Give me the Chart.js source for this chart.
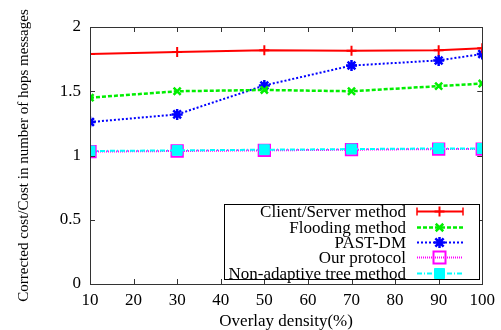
<!DOCTYPE html>
<html>
<head>
<meta charset="utf-8">
<script src="https://cdn.jsdelivr.net/npm/chart.js@4/dist/chart.umd.min.js"></script>
<style>
  body { margin: 0; background: #fff; }
</style>
</head>
<body>
<canvas id="chart" width="501" height="330"></canvas>
<script>
// density values on the x axis
const density = [10, 30, 50, 70, 90, 100];
const seriesNames = ['Client/Server method', 'Flooding method', 'PAST-DM', 'Our protocol', 'Non-adaptive tree method'];
const clientServer = [1.79, 1.805, 1.82, 1.815, 1.82, 1.835];
const flooding = [1.45, 1.50, 1.51, 1.50, 1.54, 1.56];
const pastDm = [1.26, 1.32, 1.545, 1.70, 1.74, 1.79];
const ourProtocol = [1.03, 1.035, 1.04, 1.045, 1.05, 1.05];
const nonAdaptive = [1.035, 1.04, 1.045, 1.05, 1.055, 1.055];
const xTicks = [10, 20, 30, 40, 50, 60, 70, 80, 90, 100];
const yTicks = [0, 0.5, 1, 1.5, 2];

const FONT = '"Liberation Serif", "DejaVu Serif", serif';

function pts(vals) {
    return vals.map((v, i) => ({ x: density[i], y: v }));
}

const styles = [
    { color: '#ff0000', fill: '#ff0000', width: 2, dash: [], point: 'cross', radius: 5, pw: 2 },
    { color: '#00ee00', fill: '#00ee00', width: 2.5, dash: [4, 2], point: 'crossRot', radius: 5, pw: 2.5 },
    { color: '#0000ff', fill: '#0000ff', width: 2, dash: [2, 2], point: 'star', radius: 5.5, pw: 2.5 },
    { color: '#ff00ff', fill: 'rgba(255,255,255,0)', width: 2, dash: [1, 1], point: 'rect', radius: 8, pw: 2 },
    { color: '#00ffff', fill: '#00ffff', width: 2, dash: [5, 2, 1, 2], point: 'rect', radius: 7, pw: 1 }
];
const values = [clientServer, flooding, pastDm, ourProtocol, nonAdaptive];

const datasets = values.map((vals, i) => ({
    label: seriesNames[i],
    data: pts(vals),
    borderColor: styles[i].color,
    backgroundColor: styles[i].fill,
    pointBackgroundColor: styles[i].fill,
    pointBorderColor: styles[i].color,
    borderWidth: styles[i].width,
    borderDash: styles[i].dash,
    pointStyle: styles[i].point,
    pointRadius: styles[i].radius,
    pointBorderWidth: styles[i].pw,
    order: i === 4 ? -1 : i   // cyan squares sit on top of the magenta ones
}));

function legendMarker(ctx, st, x, y) {
    const r = st.radius;
    ctx.save();
    ctx.setLineDash([]);
    ctx.strokeStyle = st.color;
    ctx.fillStyle = st.fill;
    ctx.lineWidth = st.pw;
    ctx.beginPath();
    if (st.point === 'cross') {
        ctx.moveTo(x - r, y); ctx.lineTo(x + r, y);
        ctx.moveTo(x, y - r); ctx.lineTo(x, y + r);
        ctx.stroke();
    } else if (st.point === 'crossRot' || st.point === 'star') {
        const d = r * 0.75;
        ctx.moveTo(x - d, y - d); ctx.lineTo(x + d, y + d);
        ctx.moveTo(x - d, y + d); ctx.lineTo(x + d, y - d);
        if (st.point === 'star') {
            ctx.moveTo(x - r, y); ctx.lineTo(x + r, y);
            ctx.moveTo(x, y - r); ctx.lineTo(x, y + r);
        }
        ctx.stroke();
    } else {
        const s = Math.round(r * Math.SQRT1_2);
        ctx.rect(x - s, y - s, 2 * s, 2 * s);
        ctx.fill();
        ctx.stroke();
    }
    ctx.restore();
}

// frame with inward ticks on all four sides + boxed legend in the lower right
const framePlugin = {
    id: 'frame',
    afterDatasetsDraw(chart) {
        const ctx = chart.ctx;
        const a = chart.chartArea;
        const xs = chart.scales.x, ys = chart.scales.y;
        ctx.save();
        ctx.strokeStyle = '#333';
        ctx.lineWidth = 1;
        ctx.setLineDash([]);
        ctx.strokeRect(Math.round(a.left) + 0.5, Math.round(a.top) + 0.5, Math.round(a.right - a.left), Math.round(a.bottom - a.top));
        ctx.beginPath();
        xTicks.forEach(t => {
            const px = Math.round(xs.getPixelForValue(t)) + 0.5;
            ctx.moveTo(px, a.bottom); ctx.lineTo(px, a.bottom - 5);
            ctx.moveTo(px, a.top); ctx.lineTo(px, a.top + 5);
        });
        yTicks.forEach(t => {
            const py = Math.round(ys.getPixelForValue(t)) + 0.5;
            ctx.moveTo(a.left, py); ctx.lineTo(a.left + 5, py);
            ctx.moveTo(a.right, py); ctx.lineTo(a.right - 5, py);
        });
        ctx.stroke();

        // legend
        const bx = 224, by = 204, bw = 255, bh = 75;
        ctx.fillStyle = '#fff';
        ctx.fillRect(bx, by, bw, bh);
        ctx.strokeStyle = '#000';
        ctx.strokeRect(bx + 0.5, by + 0.5, bw, bh);
        ctx.font = '17px ' + FONT;
        ctx.textAlign = 'right';
        ctx.textBaseline = 'middle';
        const rows = [211, 226.5, 242, 257, 272.5];
        seriesNames.forEach((name, i) => {
            const st = styles[i];
            const y = Math.round(rows[i]) + 0.5;
            ctx.fillStyle = '#000';
            ctx.fillText(name, 406, y + 1);
            ctx.strokeStyle = st.color;
            ctx.lineWidth = st.width;
            ctx.setLineDash(st.dash);
            ctx.beginPath();
            ctx.moveTo(417, y); ctx.lineTo(463, y);
            ctx.stroke();
            ctx.setLineDash([]);
            if (st.point === 'cross') {
                ctx.lineWidth = 1.5;
                ctx.beginPath(); ctx.moveTo(417, y - 4); ctx.lineTo(417, y + 4);
                ctx.moveTo(463, y - 4); ctx.lineTo(463, y + 4); ctx.stroke();
            }
            legendMarker(ctx, st, 439.5, y);
        });
        ctx.restore();
    }
};

const ctx = document.getElementById('chart').getContext('2d');
new Chart(ctx, {
    type: 'line',
    data: { datasets: datasets },
    options: {
        responsive: false,
        animation: false,
        layout: { padding: { top: 27, right: 18, left: 0, bottom: 0 } },
        plugins: { legend: { display: false }, tooltip: { enabled: false } },
        scales: {
            x: {
                type: 'linear', min: 10, max: 100,
                afterBuildTicks: s => { s.ticks = xTicks.map(v => ({ value: v })); },
                grid: { display: false, drawTicks: false },
                border: { display: false },
                ticks: { color: '#000', font: { family: FONT, size: 17 }, padding: 6, maxRotation: 0 },
                title: { display: true, text: 'Overlay density(%)', color: '#000', font: { family: FONT, size: 17 }, padding: { top: 0, bottom: -2 } },
                afterFit: s => { s.height = 46; }
            },
            y: {
                min: 0, max: 2,
                afterBuildTicks: s => { s.ticks = yTicks.map(v => ({ value: v })); },
                grid: { display: false, drawTicks: false },
                border: { display: false },
                ticks: { color: '#000', font: { family: FONT, size: 17 }, padding: 9, callback: v => String(v) },
                title: { display: true, text: 'Corrected cost/Cost in number of hops messages', color: '#000', font: { family: FONT, size: 15 }, padding: { top: 15, bottom: 4 } },
                afterFit: s => { s.width = 90; }
            }
        }
    },
    plugins: [framePlugin]
});
</script>
</body>
</html>
